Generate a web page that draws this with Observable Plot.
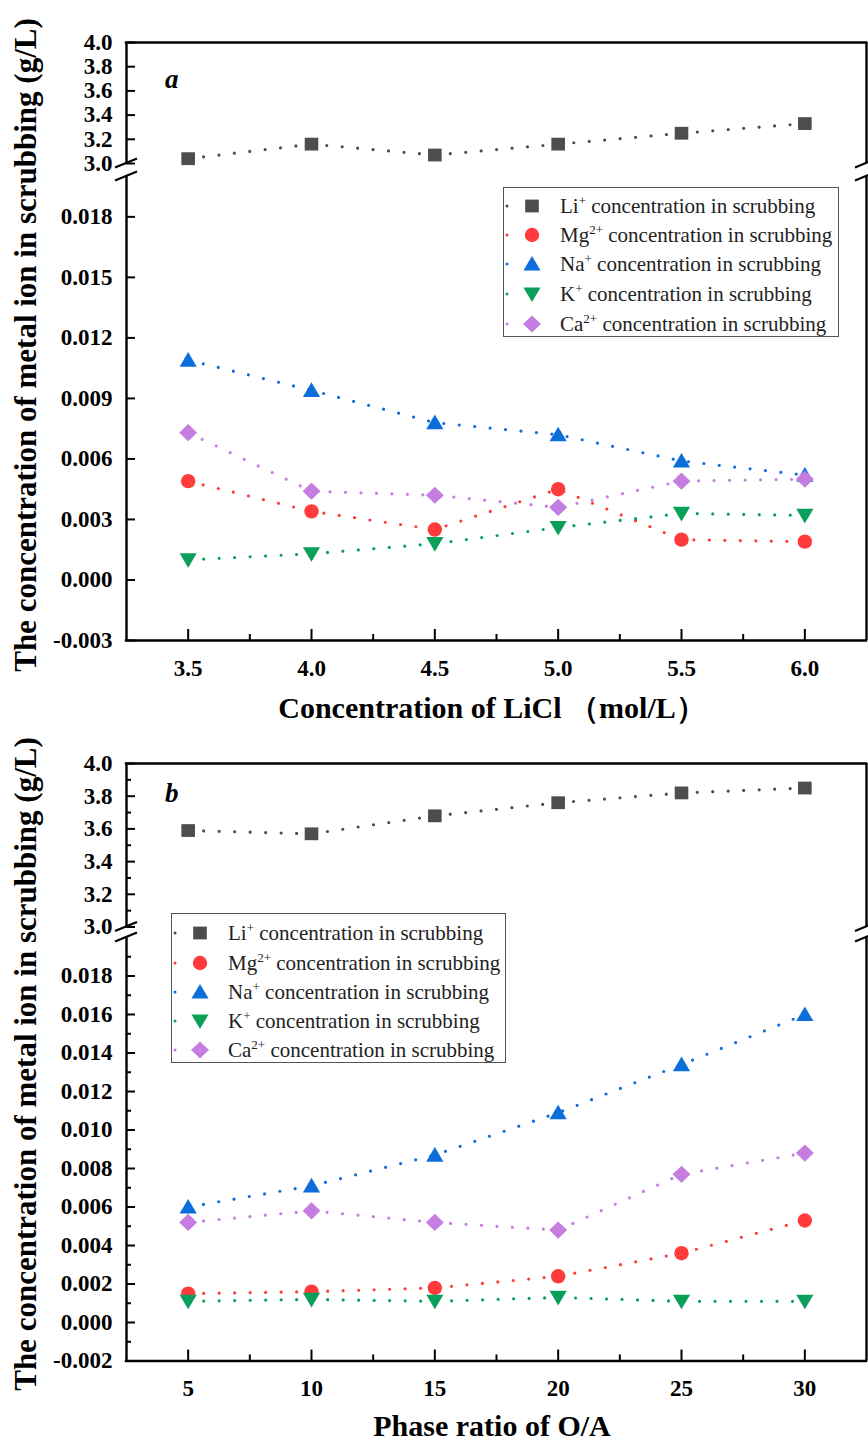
<!DOCTYPE html>
<html>
<head>
<meta charset="utf-8">
<script src="https://cdn.jsdelivr.net/npm/d3@7"></script>
<script src="https://cdn.jsdelivr.net/npm/@observablehq/plot@0.6"></script>
<style>
  body { margin: 0; background: #fff; }
  #root { position: relative; width: 868px; height: 1445px; overflow: hidden; font-family: "Liberation Serif", "Times New Roman", serif; color: #000; }
  .ytitle { position: absolute; white-space: nowrap; font-weight: bold; font-size: 31px; line-height: 1; transform: translate(-50%, -50%) rotate(-90deg); }
  .xtitle { position: absolute; white-space: nowrap; font-weight: bold; font-size: 30px; line-height: 1.05; transform: translateX(-50%); }
  .letter { position: absolute; font-weight: bold; font-style: italic; font-size: 27px; line-height: 1; }
  .legend { position: absolute; border: 1.3px solid #555; background: #fff; box-sizing: border-box; }
  .lrow { position: absolute; left: 0; height: 26px; display: flex; align-items: center; white-space: nowrap; font-size: 21px; color: #222; }
  .lrow svg { flex: none; }
  .lrow sup { font-size: 0.62em; vertical-align: 0.6em; line-height: 0; }
</style>
</head>
<body>
<div id="root"></div>
<script>
// ---------------- data ----------------
const ionNames   = ["Li", "Mg", "Na", "K", "Ca"];
const ionCharges = ["+", "2+", "+", "+", "2+"];
const legendText = " concentration in scrubbing";
const ionColors  = ["#4d4d4d", "#ff3b3b", "#0b6edb", "#0aa05a", "#c57ee0"];

// panel a : x = concentration of LiCl (mol/L)
const liclConc = [3.5, 4.0, 4.5, 5.0, 5.5, 6.0];
const liA = [3.04, 3.16, 3.07, 3.16, 3.25, 3.33];
const mgA = [0.0049, 0.0034, 0.0025, 0.0045, 0.0020, 0.0019];
const naA = [0.0109, 0.0094, 0.0078, 0.0072, 0.0059, 0.0052];
const kA  = [0.0010, 0.0013, 0.0018, 0.0026, 0.0033, 0.0032];
const caA = [0.0073, 0.0044, 0.0042, 0.0036, 0.0049, 0.0050];

// panel b : x = phase ratio O/A
const phaseRatio = [5, 10, 15, 20, 25, 30];
const liB = [3.59, 3.57, 3.68, 3.76, 3.82, 3.85];
const mgB = [0.0015, 0.0016, 0.0018, 0.0024, 0.0036, 0.0053];
const naB = [0.0060, 0.0071, 0.0087, 0.0109, 0.0134, 0.0160];
const kB  = [0.0011, 0.0012, 0.0011, 0.0013, 0.0011, 0.0011];
const caB = [0.0052, 0.0058, 0.0052, 0.0048, 0.0077, 0.0088];

// ticks
const xTicksA = [3.5, 4.0, 4.5, 5.0, 5.5, 6.0];
const xMinorA = [3.75, 4.25, 4.75, 5.25, 5.75];
const xTicksB = [5, 10, 15, 20, 25, 30];
const xMinorB = [7.5, 12.5, 17.5, 22.5, 27.5];
const yUpperTicks = [3.0, 3.2, 3.4, 3.6, 3.8, 4.0];
const yUpperMinorB = [3.1, 3.3, 3.5, 3.7, 3.9];
const yLowerTicksA = [-0.003, 0.000, 0.003, 0.006, 0.009, 0.012, 0.015, 0.018];
const yLowerTicksB = [-0.002, 0.000, 0.002, 0.004, 0.006, 0.008, 0.010, 0.012, 0.014, 0.016, 0.018];
const yLowerMinorB = [-0.001, 0.001, 0.003, 0.005, 0.007, 0.009, 0.011, 0.013, 0.015, 0.017, 0.019];

const xTitleA = "Concentration of LiCl （mol/L）";
const xTitleB = "Phase ratio of O/A";
const yTitle = "The concentration of metal ion in scrubbing (g/L)";

// ---------------- symbols ----------------
const symbols = [
  {draw(c) { c.moveTo(-6.8, -6.4); c.lineTo(6.8, -6.4); c.lineTo(6.8, 6.4); c.lineTo(-6.8, 6.4); c.closePath(); }},
  {draw(c) { c.moveTo(7.2, 0); c.arc(0, 0, 7.2, 0, 2 * Math.PI); c.closePath(); }},
  {draw(c) { c.moveTo(0, -8); c.lineTo(8.6, 6.6); c.lineTo(-8.6, 6.6); c.closePath(); }},
  {draw(c) { c.moveTo(0, 8); c.lineTo(8.6, -6.6); c.lineTo(-8.6, -6.6); c.closePath(); }},
  {draw(c) { c.moveTo(0, -8.6); c.lineTo(9, 0); c.lineTo(0, 8.6); c.lineTo(-9, 0); c.closePath(); }}
];

const root = document.getElementById("root");
const W = 868;
const FONT = '"Liberation Serif", "Times New Roman", serif';

function breakMark(where) {
  return (index, scales, values, dims) => {
    const g = d3.create("svg:g");
    const y = where === "bottom" ? dims.height - dims.marginBottom : dims.marginTop;
    for (const x of [dims.marginLeft, dims.width - dims.marginRight]) {
      g.append("line")
        .attr("x1", x - 11).attr("y1", y + 4.5)
        .attr("x2", x + 11).attr("y2", y - 4.5)
        .attr("stroke", "#000").attr("stroke-width", 2.2);
    }
    return g.node();
  };
}

function segment(o) {
  const marks = [];
  for (const s of o.series) {
    const data = o.xs.map((x, i) => ({x, v: s.values[i]}));
    marks.push(Plot.line(data, {x: "x", y: "v", stroke: s.color, strokeWidth: 3.2,
      strokeDasharray: "0 15.5", strokeLinecap: "round"}));
  }
  for (const s of o.series) {
    const data = o.xs.map((x, i) => ({x, v: s.values[i]}));
    marks.push(Plot.dot(data, {x: "x", y: "v", fill: s.color, stroke: "none", symbol: s.symbol, r: 7}));
  }
  marks.push(Plot.ruleX([o.xDomain[0], o.xDomain[1]], {stroke: "#000", strokeWidth: 2.4}));
  if (o.frameTop) marks.push(Plot.ruleY([o.yDomain[1]], {stroke: "#000", strokeWidth: 2.4, strokeLinecap: "square"}));
  if (o.frameBottom) marks.push(Plot.ruleY([o.yDomain[0]], {stroke: "#000", strokeWidth: 2.4, strokeLinecap: "square"}));
  marks.push(Plot.axisY({ticks: o.yTicks, tickSize: -9, tickPadding: 23, tickFormat: o.yFmt, strokeWidth: 2, label: null}));
  if (o.yMinor) marks.push(Plot.axisY({ticks: o.yMinor, tickSize: -5, tickFormat: () => "", strokeWidth: 2, label: null}));
  if (o.xTicks) {
    marks.push(Plot.axisX({ticks: o.xTicks, tickSize: -11, tickPadding: 30, tickFormat: o.xFmt, strokeWidth: 2, label: null}));
    marks.push(Plot.axisX({ticks: o.xMinor, tickSize: -6, tickFormat: () => "", strokeWidth: 2, label: null}));
  }
  marks.push(breakMark(o.breakAt));
  const xScale = {domain: o.xDomain, label: null};
  if (!o.xTicks) xScale.axis = null;
  const svg = Plot.plot({
    width: W, height: o.height,
    marginTop: o.mt, marginBottom: o.mb, marginLeft: 126, marginRight: 2,
    x: xScale,
    y: {domain: o.yDomain, label: null},
    style: {fontFamily: FONT, fontWeight: "bold", fontSize: "23px", color: "#000", background: "transparent", overflow: "visible"},
    marks
  });
  svg.style.position = "absolute";
  svg.style.left = "0px";
  svg.style.top = o.top + "px";
  root.append(svg);
}

function seriesOf(valuesList) {
  return valuesList.map((values, i) => ({values, color: ionColors[i], symbol: symbols[i]}));
}

function legend(left, top, width, height, rowCenters) {
  const box = document.createElement("div");
  box.className = "legend";
  Object.assign(box.style, {left: left + "px", top: top + "px", width: width + "px", height: height + "px"});
  ionNames.forEach((name, i) => {
    const row = document.createElement("div");
    row.className = "lrow";
    row.style.top = (rowCenters[i] - 13) + "px";
    const s = d3.create("svg").attr("width", 56).attr("height", 26);
    s.append("line").attr("x1", 3).attr("x2", 40).attr("y1", 13).attr("y2", 13)
      .attr("stroke", ionColors[i]).attr("stroke-width", 3).attr("stroke-linecap", "round")
      .attr("stroke-dasharray", "0 37");
    const p = d3.path(); symbols[i].draw(p);
    s.append("path").attr("d", p.toString()).attr("transform", "translate(28,13)").attr("fill", ionColors[i]);
    row.append(s.node());
    const t = document.createElement("span");
    t.innerHTML = `${name}<sup>${ionCharges[i]}</sup>${legendText}`;
    row.append(t);
    box.append(row);
  });
  root.append(box);
}

function addText(cls, text, left, top) {
  const d = document.createElement("div");
  d.className = cls; d.textContent = text;
  d.style.left = left + "px"; d.style.top = top + "px";
  root.append(d);
}

// ---------------- panel a ----------------
const xDomA = [3.25, 6.25];
segment({top: 0, height: 180, mt: 42, mb: 17, xDomain: xDomA, yDomain: [3, 4], xs: liclConc,
  series: seriesOf([liA]).slice(0, 1), yTicks: yUpperTicks, yFmt: d => d.toFixed(1),
  frameTop: true, breakAt: "bottom"});
segment({top: 160, height: 540, mt: 16, mb: 60, xDomain: xDomA, yDomain: [-0.003, 0.020], xs: liclConc,
  series: seriesOf([null, mgA, naA, kA, caA]).slice(1), yTicks: yLowerTicksA, yFmt: d => d.toFixed(3),
  frameBottom: true, xTicks: xTicksA, xMinor: xMinorA, xFmt: d => d.toFixed(1), breakAt: "top"});

// ---------------- panel b ----------------
const xDomB = [2.5, 32.5];
segment({top: 720, height: 220, mt: 43, mb: 13.5, xDomain: xDomB, yDomain: [3, 4], xs: phaseRatio,
  series: seriesOf([liB]).slice(0, 1), yTicks: yUpperTicks, yMinor: yUpperMinorB, yFmt: d => d.toFixed(1),
  frameTop: true, breakAt: "bottom"});
segment({top: 925, height: 485, mt: 12, mb: 49.5, xDomain: xDomB, yDomain: [-0.002, 0.020], xs: phaseRatio,
  series: seriesOf([null, mgB, naB, kB, caB]).slice(1), yTicks: yLowerTicksB, yMinor: yLowerMinorB, yFmt: d => d.toFixed(3),
  frameBottom: true, xTicks: xTicksB, xMinor: xMinorB, xFmt: d => String(d), breakAt: "top"});

// ---------------- text & legends ----------------
addText("ytitle", yTitle, 25, 345);
addText("ytitle", yTitle, 25, 1064);
addText("xtitle", xTitleA, 492, 692);
addText("xtitle", xTitleB, 492, 1410);
addText("letter", "a", 165, 66);
addText("letter", "b", 165, 780);
legend(503, 187, 336, 150, [18, 47, 76, 106, 136]);
legend(171, 913, 335, 150, [19, 49, 78, 107, 136]);
</script>
</body>
</html>
